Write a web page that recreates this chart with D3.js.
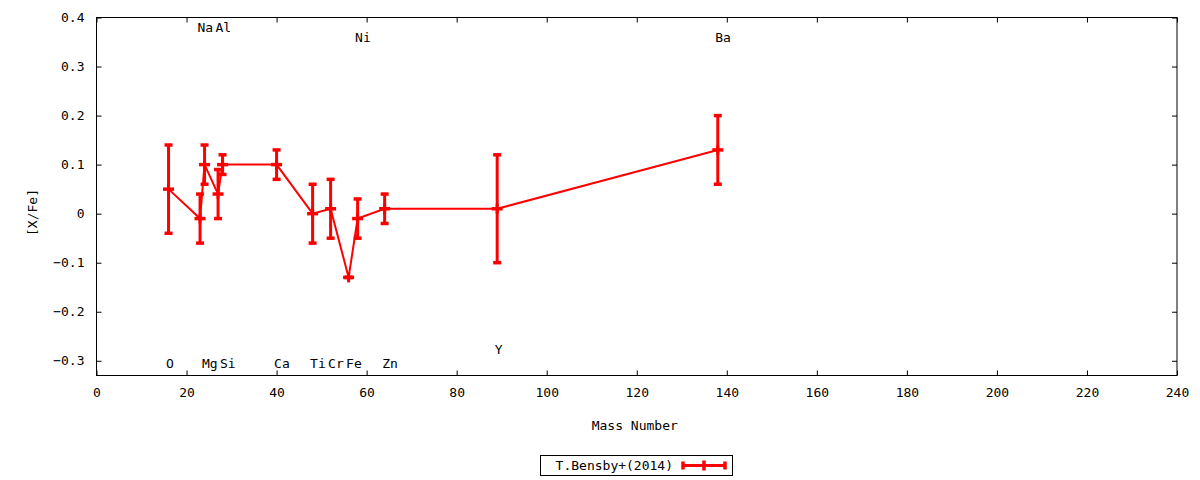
<!DOCTYPE html>
<html>
<head>
<meta charset="utf-8">
<script src="https://cdn.jsdelivr.net/npm/d3@7"></script>
<style>
  html, body { margin: 0; padding: 0; background: #fff; }
  svg { display: block; }
  text { font-family: "DejaVu Sans Mono", monospace; font-size: 13px; fill: #000; }
</style>
</head>
<body>
<svg id="chart" width="1200" height="480"></svg>
<script>
// ---- data ----
const elements   = ["O", "Na", "Mg", "Al", "Si", "Ca", "Ti", "Cr", "Fe", "Ni", "Zn", "Y", "Ba"];
const massNumber = [16, 23, 24, 27, 28, 40, 48, 52, 56, 58, 64, 89, 138];
const xFe        = [0.05, -0.01, 0.10, 0.04, 0.10, 0.10, 0.00, 0.01, -0.13, -0.01, 0.01, 0.01, 0.13];
const xFeErr     = [0.09, 0.05, 0.04, 0.05, 0.02, 0.03, 0.06, 0.06, 0.00, 0.04, 0.03, 0.11, 0.07];
const labelY     = [-0.305, 0.38, -0.305, 0.38, -0.305, -0.305, -0.305, -0.305, -0.305, 0.36, -0.305, -0.277, 0.36];
const xTicks     = [0, 20, 40, 60, 80, 100, 120, 140, 160, 180, 200, 220, 240];
const yTicks     = [-0.3, -0.2, -0.1, 0, 0.1, 0.2, 0.3, 0.4];
const seriesName = "T.Bensby+(2014)";
const xTitle     = "Mass Number";
const yTitle     = "[X/Fe]";

// ---- layout ----
const svg = d3.select("#chart");
const L = 96.5, R = 1177, T = 17.5, B = 375.5;
const x = d3.scaleLinear().domain([0, 240]).range([L, R]);
const y = d3.scaleLinear().domain([-0.33, 0.4]).range([B, T]);
const red = "#ff0000";

const fmtY = v => (Math.abs(v) < 1e-9 ? "0" : d3.format(".1f")(v));

// axes (ticks inward, mirrored)
svg.append("g").attr("transform", `translate(0,${B})`)
  .call(d3.axisBottom(x).tickValues(xTicks).tickSize(-5).tickPadding(12).tickFormat(d3.format("d")))
  .call(g => g.select(".domain").remove());
svg.append("g").attr("transform", `translate(0,${T})`)
  .call(d3.axisTop(x).tickValues(xTicks).tickSize(-5).tickFormat(""))
  .call(g => g.select(".domain").remove());
svg.append("g").attr("transform", `translate(${L},0)`)
  .call(d3.axisLeft(y).tickValues(yTicks).tickSize(-5).tickPadding(12).tickFormat(fmtY))
  .call(g => g.select(".domain").remove());
svg.append("g").attr("transform", `translate(${R},0)`)
  .call(d3.axisRight(y).tickValues(yTicks).tickSize(-5).tickFormat(""))
  .call(g => g.select(".domain").remove());
svg.selectAll(".tick line").attr("stroke", "#000").attr("stroke-width", 1);
svg.selectAll(".tick text").attr("font-family", "DejaVu Sans Mono, monospace").attr("font-size", 13).attr("fill", "#000");

// border
svg.append("rect").attr("x", L).attr("y", T).attr("width", R - L).attr("height", B - T)
  .attr("fill", "none").attr("stroke", "#000").attr("stroke-width", 1);

// titles
svg.append("text").attr("x", (L + R) / 2 - 2).attr("y", 425).attr("text-anchor", "middle")
  .attr("dominant-baseline", "central").text(xTitle);
svg.append("text").attr("transform", `translate(32,${(T + B) / 2 + 16}) rotate(-90)`)
  .attr("text-anchor", "middle").attr("dominant-baseline", "central").text(yTitle);

// element labels
svg.append("g").selectAll("text").data(elements).join("text")
  .attr("x", (d, i) => x(massNumber[i]) - 2.5)
  .attr("y", (d, i) => y(labelY[i]))
  .attr("dominant-baseline", "central")
  .text(d => d);

// data
const pts = massNumber.map((m, i) => ({ m, v: xFe[i], e: xFeErr[i] }));
const plot = svg.append("g");
plot.append("path").datum(pts)
  .attr("d", d3.line().x(d => x(d.m)).y(d => y(d.v)))
  .attr("fill", "none").attr("stroke", red).attr("stroke-width", 2);

const eb = plot.selectAll("g.eb").data(pts).join("g").attr("class", "eb");
eb.append("line")
  .attr("x1", d => x(d.m)).attr("x2", d => x(d.m))
  .attr("y1", d => y(d.v + d.e)).attr("y2", d => y(d.v - d.e))
  .attr("stroke", red).attr("stroke-width", 3);
eb.each(function (d) {
  const g = d3.select(this);
  [d.v + d.e, d.v - d.e].forEach(v => {
    g.append("line").attr("x1", x(d.m) - 4).attr("x2", x(d.m) + 4)
      .attr("y1", y(v)).attr("y2", y(v)).attr("stroke", red).attr("stroke-width", 3.5);
  });
  // plus marker
  g.append("line").attr("x1", x(d.m) - 5.5).attr("x2", x(d.m) + 5.5)
    .attr("y1", y(d.v)).attr("y2", y(d.v)).attr("stroke", red).attr("stroke-width", 3.5);
  g.append("line").attr("x1", x(d.m)).attr("x2", x(d.m))
    .attr("y1", y(d.v) - 5).attr("y2", y(d.v) + 5).attr("stroke", red).attr("stroke-width", 3);
});

// legend
const lg = svg.append("g");
lg.append("rect").attr("x", 540.5).attr("y", 455.5).attr("width", 192).attr("height", 20)
  .attr("fill", "none").attr("stroke", "#000").attr("stroke-width", 1);
lg.append("text").attr("x", 673).attr("y", 465.5).attr("text-anchor", "end")
  .attr("dominant-baseline", "central").text(seriesName);
const lx1 = 683, lx2 = 725, ly = 465.5;
lg.append("line").attr("x1", lx1).attr("x2", lx2).attr("y1", ly).attr("y2", ly).attr("stroke", red).attr("stroke-width", 3);
[lx1, lx2].forEach(xx => lg.append("line").attr("x1", xx).attr("x2", xx).attr("y1", ly - 4).attr("y2", ly + 4)
  .attr("stroke", red).attr("stroke-width", 3.5));
lg.append("line").attr("x1", (lx1 + lx2) / 2).attr("x2", (lx1 + lx2) / 2).attr("y1", ly - 5).attr("y2", ly + 5)
  .attr("stroke", red).attr("stroke-width", 3.5);
</script>
</body>
</html>
